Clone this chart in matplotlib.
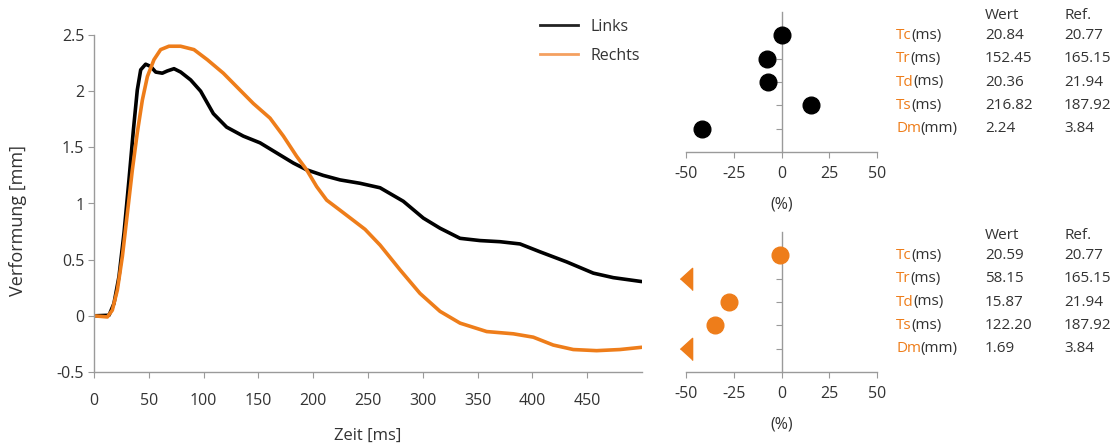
"""Verformungskurven links/rechts mit Abweichungsdiagrammen und Werten."""

import matplotlib

matplotlib.use("Agg")
import matplotlib.pyplot as plt
import matplotlib.transforms as mtransforms
from matplotlib.lines import Line2D

plt.rcParams["font.family"] = ["Open Sans", "DejaVu Sans"]
plt.rcParams["axes.unicode_minus"] = False

ORANGE = "#EE7D1A"
TEXT = "#333333"
SPINE = "#9a9a9a"

# Verformung ueber Zeit
t_links = [0, 13.7, 18.2, 22.8, 27.4, 31.9, 35.9, 39.5, 42.6, 47.1, 51.7, 56.3,
           62.3, 66.9, 73, 79.1, 88.2, 97.3, 108.9, 121, 136.2, 151.5, 166.7,
           181.9, 194, 209.2, 224.5, 242.7, 261, 282.2, 300.5, 315.7, 334,
           352.2, 370.4, 388.7, 406.9, 431.3, 455.6, 473.8, 499.7]
v_links = [0, 0.005, 0.11, 0.35, 0.74, 1.21, 1.65, 2.01, 2.19, 2.24, 2.22,
           2.17, 2.16, 2.18, 2.20, 2.17, 2.10, 2.0, 1.80, 1.68, 1.60, 1.54,
           1.45, 1.36, 1.30, 1.25, 1.21, 1.18, 1.14, 1.02, 0.87, 0.78, 0.69,
           0.67, 0.66, 0.64, 0.57, 0.48, 0.38, 0.34, 0.305]

t_rechts = [0, 12.2, 16.7, 21.3, 25.9, 30.4, 35, 39.5, 44.1, 48.7, 54.7, 60.8,
            68.4, 79, 91.2, 103.4, 118, 133.2, 145.4, 160.6, 172.8, 184.9, 194,
            203.2, 212.3, 224.5, 236.6, 247.3, 261, 279.2, 297.4, 315.7, 334,
            358.3, 382.6, 400.8, 419, 437.3, 458.6, 479.9, 499.7]
v_rechts = [0, -0.01, 0.05, 0.23, 0.53, 0.91, 1.30, 1.63, 1.92, 2.13, 2.28,
            2.37, 2.40, 2.40, 2.37, 2.28, 2.16, 2.01, 1.89, 1.76, 1.60, 1.42,
            1.30, 1.15, 1.03, 0.94, 0.85, 0.77, 0.63, 0.41, 0.20, 0.04, -0.065,
            -0.14, -0.16, -0.19, -0.26, -0.30, -0.31, -0.30, -0.28]

# Kennwerte
kennwerte = ["Tc", "Tr", "Td", "Ts", "Dm"]
einheiten = ["(ms)", "(ms)", "(ms)", "(ms)", "(mm)"]
wert_links = ["20.84", "152.45", "20.36", "216.82", "2.24"]
wert_rechts = ["20.59", "58.15", "15.87", "122.20", "1.69"]
ref = ["20.77", "165.15", "21.94", "187.92", "3.84"]
# Abweichung zur Referenz in %
abw_links = [0.3, -7.7, -7.2, 15.4, -41.7]
abw_rechts = [-0.9, -64.8, -27.7, -35.0, -56.0]

W, H = 1116, 448
fig = plt.figure(figsize=(W / 100, H / 100), dpi=100)


def style_axis(ax):
    for side in ("top", "right"):
        ax.spines[side].set_visible(False)
    for side in ("left", "bottom"):
        ax.spines[side].set_color(SPINE)
        ax.spines[side].set_linewidth(1.0)
    ax.tick_params(colors=SPINE, labelcolor=TEXT, labelsize=11.5, length=4)


# --- Hauptdiagramm ---
ax = fig.add_axes([94 / W, 76 / H, 548 / W, 337 / H])
for t, v, c in ((t_links, v_links, "black"), (t_rechts, v_rechts, ORANGE)):
    ax.plot(t, v, color=c, lw=2.6, solid_capstyle="round",
            solid_joinstyle="round")
ax.set_xlim(0, 500)
ax.set_ylim(-0.5, 2.5)
ax.set_xticks(range(0, 451, 50))
ax.set_yticks([-0.5, 0, 0.5, 1, 1.5, 2, 2.5])
ax.set_yticklabels(["-0.5", "0", "0.5", "1", "1.5", "2", "2.5"])
style_axis(ax)
ax.tick_params(axis="x", pad=11)
ax.tick_params(axis="y", pad=3)
ax.set_xlabel("Zeit [ms]", fontsize=12, color=TEXT)
ax.xaxis.set_label_coords(0.5, -0.165)
ax.set_ylabel("Verformung [mm]", fontsize=13, color=TEXT)
ax.yaxis.set_label_coords(-0.122, 0.45)

handles = [Line2D([], [], color="#222222", lw=2),
           Line2D([], [], color="#F4A060", lw=2)]
fig.legend(handles, ["Links", "Rechts"], loc="upper left",
           bbox_to_anchor=(540 / W, 1 - 19 / H), frameon=False,
           fontsize=11.5, labelcolor=TEXT, handlelength=2.4,
           handletextpad=0.75, labelspacing=0.8, borderpad=0,
           borderaxespad=0)


# --- Abweichungsdiagramme mit Tabellen ---
def panel(bottom_px, abw, werte, color):
    ax_p = fig.add_axes([686 / W, (H - bottom_px) / H, 191 / W, 140 / H])
    rows = range(len(abw))
    for y, a in zip(rows, abw):
        if a < -50:
            ax_p.plot(-50, y, marker=[(-0.55, 0), (0.55, 1), (0.55, -1)],
                      ms=16, color=color, clip_on=False, zorder=3, lw=0)
        else:
            ax_p.plot(a, y, marker="o", ms=12, color=color, clip_on=False,
                      zorder=3, lw=0)
    ax_p.set_xlim(-50, 50)
    ax_p.set_ylim(5, -1)
    ax_p.set_xticks([-50, -25, 0, 25, 50])
    ax_p.set_yticks(list(rows))
    ax_p.set_yticklabels([])
    style_axis(ax_p)
    ax_p.spines["left"].set_position(("data", 0))
    ax_p.tick_params(axis="x", pad=6)
    ax_p.set_xlabel("(%)", fontsize=11.5, color=TEXT)
    ax_p.xaxis.set_label_coords(0.5, -0.32)

    tr = mtransforms.blended_transform_factory(fig.transFigure, ax_p.transData)
    fs = 11
    ax_p.annotate("Wert", (985 / W, -0.86), xycoords=tr, fontsize=fs,
                  color=TEXT, va="center", annotation_clip=False)
    ax_p.annotate("Ref.", (1064 / W, -0.86), xycoords=tr, fontsize=fs,
                  color=TEXT, va="center", annotation_clip=False)
    for y, (k, e, w, r) in enumerate(zip(kennwerte, einheiten, werte, ref)):
        t1 = ax_p.annotate(k, (896 / W, y), xycoords=tr, fontsize=fs,
                           color=ORANGE, va="center", annotation_clip=False)
        ax_p.annotate(e, (1, 0), xycoords=t1, xytext=(-0.5, 0),
                      textcoords="offset points", fontsize=fs, color=TEXT,
                      va="bottom", annotation_clip=False)
        ax_p.annotate(w, (985 / W, y), xycoords=tr, fontsize=fs, color=TEXT,
                      va="center", annotation_clip=False)
        ax_p.annotate(r, (1064 / W, y), xycoords=tr, fontsize=fs, color=TEXT,
                      va="center", annotation_clip=False)


panel(152, abw_links, wert_links, "black")
panel(372, abw_rechts, wert_rechts, ORANGE)

fig.savefig("out.png", dpi=100)
